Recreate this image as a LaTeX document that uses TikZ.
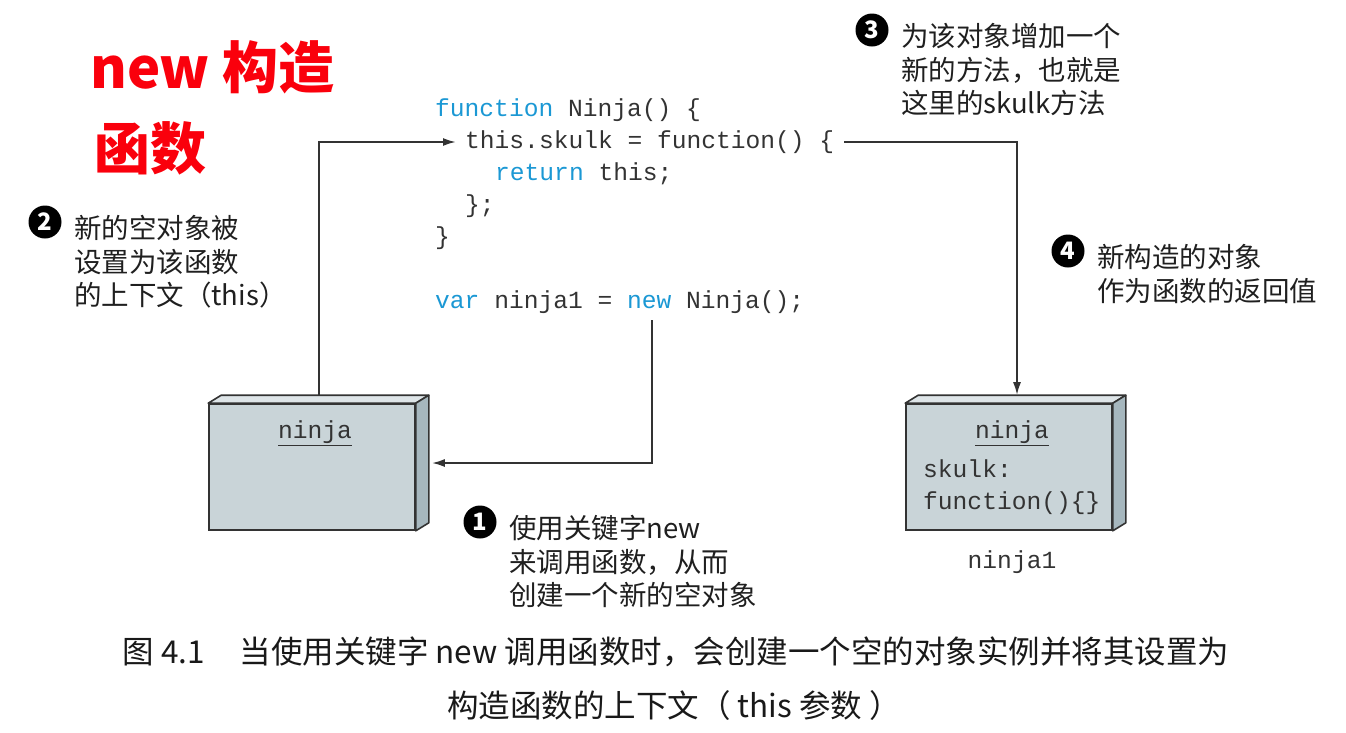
\documentclass[tikz,border=0pt]{standalone}
\usepackage{fontspec}
\setmonofont{Liberation Mono}
\newfontfamily\cjk{Noto Sans CJK SC}
\usepackage{xcolor}
\usepackage{tikz}
\usetikzlibrary{arrows.meta}
\usetikzlibrary{positioning}
\definecolor{kwblue}{RGB}{27,152,212}
\definecolor{codegray}{RGB}{51,51,51}
\definecolor{facefront}{RGB}{201,212,216}
\definecolor{facetop}{RGB}{222,229,232}
\definecolor{faceside}{RGB}{166,183,190}
\definecolor{titlered}{RGB}{250,0,12}
\newcommand{\kw}[1]{\textcolor{kwblue}{#1}}

\begin{document}
\begin{tikzpicture}
[x=1pt,y=-1pt,
code/.style={anchor=west,inner sep=0,text=codegray,font=\ttfamily\fontsize{24.6}{30}\selectfont,text height=18pt,text depth=5pt},
front/.style={rectangle,draw=codegray,fill=facefront,line width=1.6pt,minimum width=206pt,minimum height=126pt,inner sep=0},
topface/.style={draw=codegray,fill=facetop,line width=1.6pt,line join=round},
sideface/.style={draw=codegray,fill=faceside,line width=1.6pt,line join=round},
num/.style={circle,fill=black,text=white,minimum size=33pt,inner sep=0,font=\cjk\bfseries\fontsize{24}{24}\selectfont},
lbl/.style={anchor=north west,align=left,inner sep=0,text=black!88,font=\cjk\fontsize{27.5}{33.5}\selectfont},
ttl/.style={anchor=west,inner sep=0,text=titlered,font=\cjk\bfseries\fontsize{56}{60}\selectfont},
capt/.style={inner sep=0,text=black!90,font=\cjk\fontsize{31.5}{34}\selectfont},
arr/.style={draw=codegray,line width=2pt,-{Latex[length=13pt,width=8pt]}}]

\useasboundingbox (0,0) rectangle (1346,732);

% title
\node[ttl] (ttl1) at (90,67)  {new 构造};
\node[ttl] (ttl2) at (94,148) {函数};

% code
\node[code] (ln1) at (435,110) {\kw{function} Ninja() \{};
\node[code] (ln2) at (465,142) {this.skulk = function() \{};
\node[code] (ln3) at (495,174) {\kw{return} this;};
\node[code] (ln4) at (465,206) {\};};
\node[code] (ln5) at (435,238) {\}};
\node[code] (ln6) at (435,302) {\kw{var} ninja1 = \kw{new} Ninja();};

% left object
\node[front] (lbox) at (312,467) {};
\draw[topface] (lbox.north west) -- ++(13,-8) -- ([shift={(13,-8)}]lbox.north east) -- (lbox.north east) -- cycle;
\draw[sideface] (lbox.north east) -- ++(13,-8) -- ([shift={(13,-8)}]lbox.south east) -- (lbox.south east) -- cycle;
\node[code,anchor=center] (lname) at (315,432) {\underline{ninja}};

% right object
\node[front] (rbox) at (1009,467) {};
\draw[topface] (rbox.north west) -- ++(13,-8) -- ([shift={(13,-8)}]rbox.north east) -- (rbox.north east) -- cycle;
\draw[sideface] (rbox.north east) -- ++(13,-8) -- ([shift={(13,-8)}]rbox.south east) -- (rbox.south east) -- cycle;
\node[code,anchor=center] (rname) at (1012,432) {\underline{ninja}};
\node[code] (rprop) at (923,471) {skulk:};
\node[code] (rfunc) at (923,503) {function()\{\}};
\node[code,anchor=center] (rvar) at (1012,562) {ninja1};

% connectors
\coordinate (newtail) at (652,320);
\coordinate (ltop) at ([shift={(7,-8)}]lbox.north);
\coordinate (rtop) at ([shift={(8,-8)}]rbox.north);
\draw[arr] (newtail) |- ([shift={(16,-4)}]lbox.east);
\draw[arr] (ltop) |- ([xshift=-9pt]ln2.west);
\draw[arr] ([xshift=10pt]ln2.east) -| (rtop);

% numbered notes
\node[num] (n1) at (480,522) {1};
\node[lbl] (t1) at ([xshift=17pt,yshift=-5pt]n1.north east) {使用关键字new\\来调用函数，从而\\创建一个新的空对象};
\node[num] (n2) at (45,222) {2};
\node[lbl] (t2) at ([xshift=17pt,yshift=-5pt]n2.north east) {新的空对象被\\设置为该函数\\的上下文（this）};
\node[num] (n3) at (872,30) {3};
\node[lbl] (t3) at ([xshift=17pt,yshift=-5pt]n3.north east) {为该对象增加一个\\新的方法，也就是\\这里的skulk方法};
\node[num] (n4) at (1068,251) {4};
\node[lbl] (t4) at ([xshift=17pt,yshift=-5pt]n4.north east) {新构造的对象\\作为函数的返回值};

% caption
\node[capt] (cap1) at (676,652) {图 4.1\hspace{1.1em}当使用关键字 new 调用函数时，会创建一个空的对象实例并将其设置为};
\node[capt] (cap2) at (674,706) {构造函数的上下文（ this 参数 ）};
\end{tikzpicture}
\end{document}
